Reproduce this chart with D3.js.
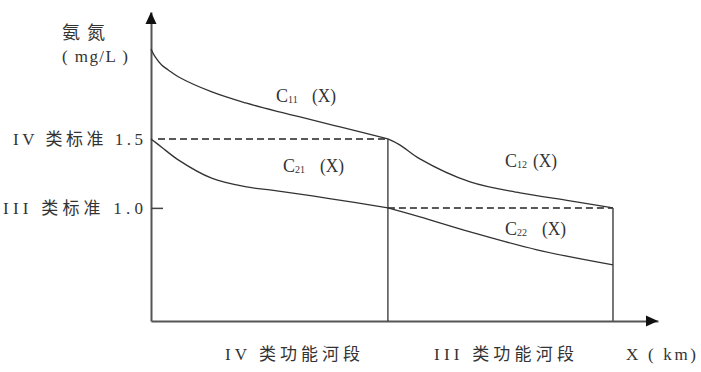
<!DOCTYPE html>
<html><head><meta charset="utf-8">
<script src="https://cdn.jsdelivr.net/npm/d3@7"></script>
<style>
html,body{margin:0;padding:0;background:#fff;}
svg{display:block;}
text{fill:#333;}
</style></head>
<body>
<svg id="chart" width="701" height="372"></svg>
<script>
// ---- data ----
const xDomain = [0, 21.4];          // km (schematic)
const yDomain = [0.18, 2.42];       // mg/L (schematic)
const standards = [1.5, 1.0];
const standardLabels = ["IV 类标准 1.5", "III 类标准 1.0"];
const breaks = [10, 19.5];          // end of IV section, end of III section
const sectionLabels = ["IV 类功能河段", "III 类功能河段"];
const c11X = [0, 0.17, 0.45, 0.73, 1.15, 2.57, 4.0, 5.24, 6.29, 7.98, 10];
const c11Y = [2.152, 2.096, 2.036, 2.0, 1.951, 1.841, 1.761, 1.703, 1.659, 1.587, 1.5];
const c21X = [0, 0.45, 1.15, 2.56, 3.97, 5.24, 7.6, 10];
const c21Y = [1.5, 1.440, 1.348, 1.215, 1.154, 1.125, 1.066, 1.0];
const c12X = [10, 10.5, 11.35, 13.47, 15.58, 17.69, 19.5];
const c12Y = [1.5, 1.457, 1.355, 1.188, 1.109, 1.051, 1.0];
const c22X = [10, 11.35, 13.47, 16.29, 19.5];
const c22Y = [1.0, 0.935, 0.826, 0.696, 0.587];
const curveNames = [["C","11"],["C","21"],["C","12"],["C","22"]];

const svg = d3.select("#chart");
const x = d3.scaleLinear().domain(xDomain).range([151, 658]);
const y = d3.scaleLinear().domain(yDomain).range([321, 12]);

const serif = "'Liberation Serif','Noto Sans CJK SC',serif";
const cjk = "'Liberation Serif','Noto Sans CJK SC',sans-serif";

// axes
const gy = svg.append("g").attr("transform", `translate(${x(0)},0)`)
  .call(d3.axisLeft(y).tickValues([1.0]).tickSize(-12).tickSizeOuter(0).tickFormat(""));
gy.select(".domain").attr("stroke", "#555").attr("stroke-width", 2);
gy.selectAll(".tick line").attr("stroke", "#444").attr("stroke-width", 1.5);
const gx = svg.append("g").attr("transform", `translate(0,${y(yDomain[0])})`)
  .call(d3.axisBottom(x).tickValues([]).tickSizeOuter(0));
gx.select(".domain").attr("stroke", "#555").attr("stroke-width", 2);

// arrow heads
const ax = x(0), ay = y(yDomain[1]);
svg.append("path").attr("d", `M${ax},${ay} L${ax-5.5},${ay+12} L${ax+5.5},${ay+12} Z`).attr("fill", "#111");
const bx = x(xDomain[1]), by = y(yDomain[0]);
svg.append("path").attr("d", `M${bx},${by} L${bx-12},${by-5.5} L${bx-12},${by+5.5} Z`).attr("fill", "#111");

// dashed standard lines
svg.append("line").attr("x1", x(0)+7).attr("x2", x(breaks[0]))
  .attr("y1", y(standards[0])).attr("y2", y(standards[0]))
  .attr("stroke", "#222").attr("stroke-width", 1.5).attr("stroke-dasharray", "7,4");
svg.append("line").attr("x1", x(breaks[0])).attr("x2", x(breaks[1]))
  .attr("y1", y(standards[1])).attr("y2", y(standards[1]))
  .attr("stroke", "#222").attr("stroke-width", 1.5).attr("stroke-dasharray", "7,4");

// vertical section boundaries
svg.append("line").attr("x1", x(breaks[0])).attr("x2", x(breaks[0]))
  .attr("y1", y(standards[0])).attr("y2", y(yDomain[0]))
  .attr("stroke", "#222").attr("stroke-width", 1.2);
svg.append("line").attr("x1", x(breaks[1])).attr("x2", x(breaks[1]))
  .attr("y1", y(standards[1])).attr("y2", y(yDomain[0]))
  .attr("stroke", "#555").attr("stroke-width", 1.6);

// curves
const line = d3.line().x(d => x(d[0])).y(d => y(d[1])).curve(d3.curveCatmullRom.alpha(0.5));
[[c11X,c11Y],[c21X,c21Y],[c12X,c12Y],[c22X,c22Y]].forEach(([xs, ys]) => {
  svg.append("path").datum(xs.map((v, i) => [v, ys[i]]))
    .attr("d", line).attr("fill", "none").attr("stroke", "#333").attr("stroke-width", 1.3);
});

// curve labels
const curveLabelPos = [
  {cx: 276, sx: 288, px: 312, b: 102},
  {cx: 283, sx: 295, px: 320, b: 172},
  {cx: 505, sx: 517, px: 533, b: 167},
  {cx: 505, sx: 517, px: 542, b: 235}
];
curveNames.forEach((n, i) => {
  const p = curveLabelPos[i];
  svg.append("text").attr("x", p.cx).attr("y", p.b).attr("font-family", serif).attr("font-size", 18).text(n[0]);
  svg.append("text").attr("x", p.sx).attr("y", p.b + 1).attr("font-family", serif).attr("font-size", 10).text(n[1]);
  svg.append("text").attr("x", p.px).attr("y", p.b).attr("font-family", serif).attr("font-size", 18)
    .attr("textLength", 24).attr("lengthAdjust", "spacingAndGlyphs").text("(X)");
});

// y axis title
svg.append("text").attr("x", 62).attr("y", 39).attr("font-family", cjk).attr("font-size", 18)
  .attr("textLength", 43).attr("lengthAdjust", "spacing").text("氨氮");
svg.append("text").attr("x", 62).attr("y", 62).attr("font-family", serif).attr("font-size", 17)
  .attr("textLength", 66).attr("lengthAdjust", "spacing").text("( mg/L )");

// standard labels
const stdLeft = [13, 3];
standards.forEach((v, i) => {
  svg.append("text").attr("x", stdLeft[i]).attr("y", y(v) + 6).attr("font-family", cjk).attr("font-size", 17)
    .attr("textLength", 143 - stdLeft[i]).attr("lengthAdjust", "spacing").text(standardLabels[i]);
});

// section labels
const secPos = [[225, 135], [434, 140]];
sectionLabels.forEach((t, i) => {
  svg.append("text").attr("x", secPos[i][0]).attr("y", 360).attr("font-family", cjk).attr("font-size", 17)
    .attr("textLength", secPos[i][1]).attr("lengthAdjust", "spacing").text(t);
});
svg.append("text").attr("x", 626).attr("y", 360).attr("font-family", serif).attr("font-size", 17)
  .attr("textLength", 70).attr("lengthAdjust", "spacing").text("X ( km)");
</script>
</body></html>
